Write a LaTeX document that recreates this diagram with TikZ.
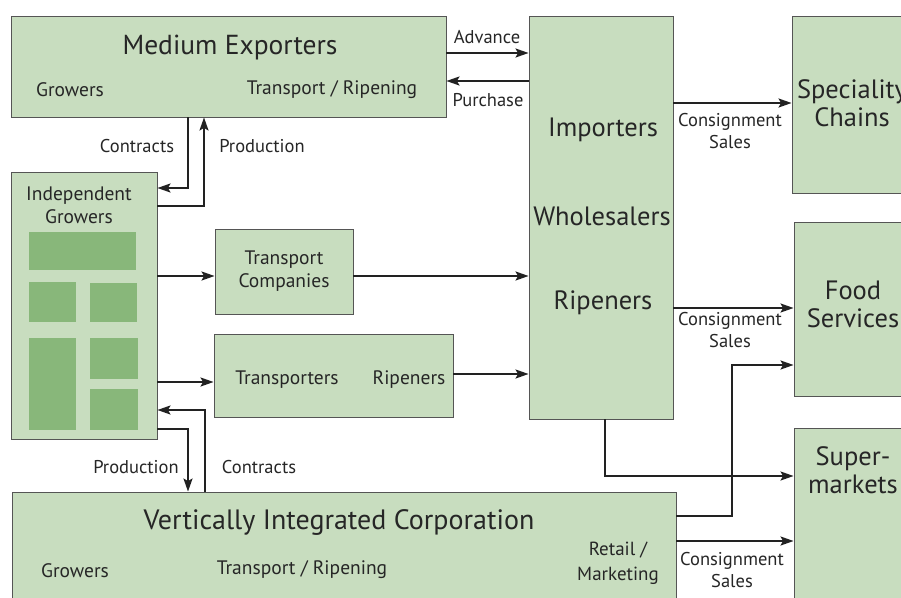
\documentclass[tikz,border=0pt]{standalone}
\usepackage{fontspec}
\setmainfont{PT Sans}
\usepackage{tikz}
\usetikzlibrary{calc,arrows.meta}

\definecolor{boxgreen}{HTML}{C8DDBF}
\definecolor{plotgreen}{HTML}{88B77A}
\definecolor{edgegray}{HTML}{555555}
\definecolor{flowblack}{HTML}{222222}

\tikzset{
  box/.style={draw=edgegray, fill=boxgreen, line width=0.9pt, inner sep=0pt},
  plot/.style={fill=plotgreen},
  flow/.style={draw=flowblack, line width=2pt, -{Stealth[length=13pt,width=9pt,inset=2.5pt]}},
  bigtxt/.style={font=\fontsize{26.5}{28}\selectfont, align=center, text=black!85},
  midtxt/.style={font=\fontsize{19.5}{23}\selectfont, align=center, text=black!85},
  lbltxt/.style={font=\fontsize{18.5}{22}\selectfont, align=center, text=black!85},
}

\begin{document}
\begin{tikzpicture}[x=1pt, y=-1pt]
                \useasboundingbox (0,0) rectangle (901,597);
                \clip (0,0) rectangle (901,597);

                % boxes
                \node[box, minimum width=435pt, minimum height=101pt] (me) at (228.5,66.5) {};
                \node[box, minimum width=144pt, minimum height=403pt] (imp) at (601,217.5) {};
                \node[box, minimum width=124pt, minimum height=177pt] (spc) at (854,104.5) {};
                \node[box, minimum width=124pt, minimum height=174pt] (fs) at (856,309) {};
                \node[box, minimum width=124pt, minimum height=190pt] (sm) at (856,523) {};
                \node[box, minimum width=146pt, minimum height=267pt] (ig) at (84,305.5) {};
                \node[box, minimum width=138pt, minimum height=85pt] (tc) at (284,271.5) {};
                \node[box, minimum width=239pt, minimum height=83pt] (tr) at (333.5,375.5) {};
                \node[box, minimum width=664pt, minimum height=120pt] (vic) at (344,552) {};

                % plots of the growers
                \fill[plot] (29,232) rectangle (136,270);
                \fill[plot] (29,282) rectangle (76,322);
                \fill[plot] (90,283) rectangle (137,322);
                \fill[plot] (29,338) rectangle (76,430);
                \fill[plot] (90,338) rectangle (138,379);
                \fill[plot] (90,389) rectangle (138,430);

                % texts in the boxes
                \node[bigtxt, font=\fontsize{27.5}{28}\selectfont] (meName) at (230,48) {Medium Exporters};
                \node[midtxt] (meGrow) at (70,90) {Growers};
                \node[midtxt] (meTrans) at (332,90) {Transport / Ripening};
                \node[bigtxt] (impName) at (603,130) {Importers};
                \node[bigtxt] (wsName) at (602,216) {Wholesalers};
                \node[bigtxt] (ripName) at (603,303) {Ripeners};
                \node[bigtxt] (spcName) at (852,103) {Speciality\\Chains};
                \node[bigtxt] (fsName) at (853,304) {Food\\Services};
                \node[bigtxt] (smName) at (853,470) {Super-\\markets};
                \node[midtxt] (igName) at (79,205) {Independent\\Growers};
                \node[midtxt] (tcName) at (284,271) {Transport\\Companies};
                \node[midtxt] (trName) at (287,380) {Transporters};
                \node[midtxt] (trRip) at (409,380) {Ripeners};
                \node[bigtxt, font=\fontsize{28}{28}\selectfont] (vicName) at (339,522) {Vertically Integrated Corporation};
                \node[midtxt] (vicGrow) at (75,571) {Growers};
                \node[midtxt] (vicTrans) at (302,570) {Transport / Ripening};
                \node[midtxt, font=\fontsize{19}{25}\selectfont] (vicRet) at (618,563) {Retail /\\Marketing};

                % flows
                \draw[flow] (me.east |- 0,53) -- (imp.west |- 0,53);
                \draw[flow] (imp.west |- 0,81) -- (me.east |- 0,81);
                \draw[flow] (188,0 |- me.south) |- (ig.east |- 0,188);
                \draw[flow] (ig.east |- 0,206) -| (204,0 |- me.south);
                \draw[flow] (ig.east |- 0,276) -- (tc.west |- 0,276);
                \draw[flow] (tc.east |- 0,276) -- (imp.west |- 0,276);
                \draw[flow] (ig.east |- 0,382) -- (tr.west |- 0,382);
                \draw[flow] (tr.east |- 0,374) -- (imp.west |- 0,374);
                \draw[flow] (205,0 |- vic.north) |- (ig.east |- 0,410);
                \draw[flow] (ig.east |- 0,429) -| (188,0 |- vic.north);
                \draw[flow] (imp.east |- 0,103) -- (spc.west |- 0,103);
                \draw[flow] (imp.east |- 0,308) -- (fs.west |- 0,308);
                \draw[flow] (605,0 |- imp.south) |- (sm.west |- 0,476);
                \draw[flow] (vic.east |- 0,516) -| (732,365) -- (fs.west |- 0,365);
                \draw[flow] (vic.east |- 0,541) -- (sm.west |- 0,541);

                % flow labels
                \node[lbltxt] (advLbl) at (487,37) {Advance};
                \node[lbltxt] (purLbl) at (488,100) {Purchase};
                \node[lbltxt] (conTop) at (137,146) {Contracts};
                \node[lbltxt] (proTop) at (262,146) {Production};
                \node[lbltxt] (proBot) at (136,467) {Production};
                \node[lbltxt] (conBot) at (259,467) {Contracts};
                \node[lbltxt] (cs1) at (730,131) {Consignment\\Sales};
                \node[lbltxt] (cs2) at (730,330) {Consignment\\Sales};
                \node[lbltxt] (cs3) at (732,570) {Consignment\\Sales};
\end{tikzpicture}
\end{document}
